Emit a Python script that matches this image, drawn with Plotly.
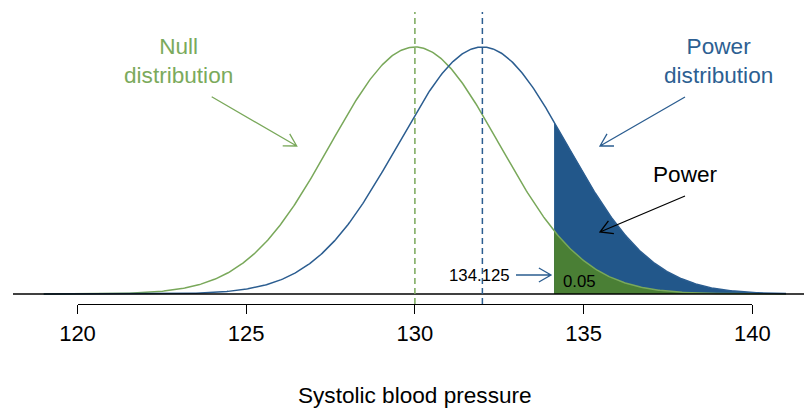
import math
import plotly.graph_objects as go

# ---- data ----
null_mean = 130.0
power_mean = 132.0
std_error = 2.5
cutoff = 134.125
alpha_label = "0.05"
curve_range = [119.0, 141.0]
tick_values = [120, 125, 130, 135, 140]
tick_labels = ["120", "125", "130", "135", "140"]
x_title = "Systolic blood pressure"

# ---- styling ----
FONT = "Liberation Sans, Arial, sans-serif"
GREEN_LINE = "#79A85A"
GREEN_TEXT = "#7BAA5C"
GREEN_FILL = "#4A7F35"
BLUE_LINE = "#2B5D90"
BLUE_TEXT = "#2D5F92"
BLUE_FILL = "#22578A"

W, H = 812, 410
OFF = 8  # page body margin offset of the figure
SX = 674.8 / 20.0          # pixels per x unit
SY = 247.0 / 0.15958       # pixels per density unit
X_MIN = 120.0 - (77.5 - OFF) / SX
X_MAX = X_MIN + W / SX
Y_MAX = (294.0 - OFF) / SY
Y_MIN = Y_MAX - H / SY


def px2x(px):
    return X_MIN + (px - OFF) / SX


def py2y(py):
    return Y_MAX - (py - OFF) / SY


def density(x, m, s):
    return math.exp(-0.5 * ((x - m) / s) ** 2) / (s * math.sqrt(2 * math.pi))


n = 600
xs = [curve_range[0] + (curve_range[1] - curve_range[0]) * i / n for i in range(n + 1)]
null_y = [density(x, null_mean, std_error) for x in xs]
power_y = [density(x, power_mean, std_error) for x in xs]
tail_x = [cutoff] + [x for x in xs if x > cutoff]
tail_null = [density(x, null_mean, std_error) for x in tail_x]
tail_power = [density(x, power_mean, std_error) for x in tail_x]

fig = go.Figure()
fig.add_trace(go.Scatter(x=tail_x, y=tail_power, mode="lines", line=dict(width=0, color=BLUE_FILL),
                         fill="tozeroy", fillcolor=BLUE_FILL, hoverinfo="skip"))
fig.add_trace(go.Scatter(x=tail_x, y=tail_null, mode="lines", line=dict(width=0, color=GREEN_FILL),
                         fill="tozeroy", fillcolor=GREEN_FILL, hoverinfo="skip"))
fig.add_trace(go.Scatter(x=xs, y=null_y, mode="lines", line=dict(color=GREEN_LINE, width=1.5)))
fig.add_trace(go.Scatter(x=xs, y=power_y, mode="lines", line=dict(color=BLUE_LINE, width=1.5)))
# invisible trace that carries the visible tick axis
fig.add_trace(go.Scatter(x=[tick_values[0], tick_values[-1]], y=[Y_MIN - 1, Y_MIN - 1], xaxis="x2", yaxis="y",
                         mode="markers", marker=dict(opacity=0), hoverinfo="skip"))

shapes = []
# baseline
shapes.append(dict(type="line", xref="x", yref="y", x0=px2x(13), x1=X_MAX, y0=0, y1=0,
                   line=dict(color="black", width=1.5)))
# mean lines
for m, c in [(null_mean, GREEN_LINE), (power_mean, BLUE_LINE)]:
    shapes.append(dict(type="line", xref="x", yref="y", x0=m, x1=m, y0=py2y(304), y1=py2y(12),
                       line=dict(color=c, width=1.5, dash="6px,4px")))


def arrow(p0, p1, color, head=14):
    # p0, p1 given in reference-picture pixels
    ang = math.atan2(p0[1] - p1[1], p0[0] - p1[0])
    arms = []
    for d in (-math.pi / 6, math.pi / 6):
        arms.append((p1[0] + head * math.cos(ang + d), p1[1] + head * math.sin(ang + d)))
    X = lambda p: px2x(p[0])
    Y = lambda p: py2y(p[1])
    path = (f"M {X(p0)},{Y(p0)} L {X(p1)},{Y(p1)} "
            f"M {X(arms[0])},{Y(arms[0])} L {X(p1)},{Y(p1)} L {X(arms[1])},{Y(arms[1])}")
    shapes.append(dict(type="path", xref="x", yref="y", path=path,
                       line=dict(color=color, width=1.3)))


arrow((211.7, 96.7), (296.7, 146.0), GREEN_LINE)
arrow((685.0, 97.0), (600.0, 146.0), BLUE_LINE)
arrow((685.0, 196.0), (600.0, 232.0), "black")
arrow((516.0, 275.0), (551.0, 275.0), BLUE_LINE)

annotations = [
    dict(x=px2x(178), y=py2y(61), text="Null<br>distribution", font=dict(family=FONT, size=22.6, color=GREEN_TEXT)),
    dict(x=px2x(718), y=py2y(61), text="Power<br>distribution", font=dict(family=FONT, size=22.6, color=BLUE_TEXT)),
    dict(x=px2x(685.5), y=py2y(174), text="Power", font=dict(family=FONT, size=22.6, color="black")),
    dict(x=px2x(479.5), y=py2y(275), text=str(cutoff), font=dict(family=FONT, size=16.8, color="black")),
    dict(x=px2x(579.5), y=py2y(281), text=alpha_label, font=dict(family=FONT, size=16.8, color="black")),
    dict(x=px2x(415), y=py2y(395.5), text=x_title, font=dict(family=FONT, size=22.6, color="black")),
]
for a in annotations:
    a.update(xref="x", yref="y", showarrow=False, xanchor="center", yanchor="middle")

fig.update_layout(
    width=W, height=H,
    margin=dict(l=0, r=0, t=0, b=0, pad=0, autoexpand=False),
    paper_bgcolor="white", plot_bgcolor="rgba(0,0,0,0)",
    showlegend=False,
    xaxis=dict(visible=False, range=[X_MIN, X_MAX], domain=[0, 1], fixedrange=True, automargin=False),
    yaxis=dict(visible=False, range=[Y_MIN, Y_MAX], domain=[0, 1], fixedrange=True, automargin=False),
    xaxis2=dict(domain=[(tick_values[0] - X_MIN) * SX / W, (tick_values[-1] - X_MIN) * SX / W],
                range=[tick_values[0], tick_values[-1]], anchor="free", position=1 - (304 - OFF) / H,
                showline=True, linecolor="black", linewidth=1, ticks="outside", ticklen=9,
                tickwidth=1, tickcolor="black", tickvals=tick_values, ticktext=tick_labels,
                tickfont=dict(family=FONT, size=22, color="black"), showgrid=False, zeroline=False,
                ticklabelstandoff=1, automargin=False),
    shapes=shapes,
    annotations=annotations,
)

fig.write_html("out.html")
